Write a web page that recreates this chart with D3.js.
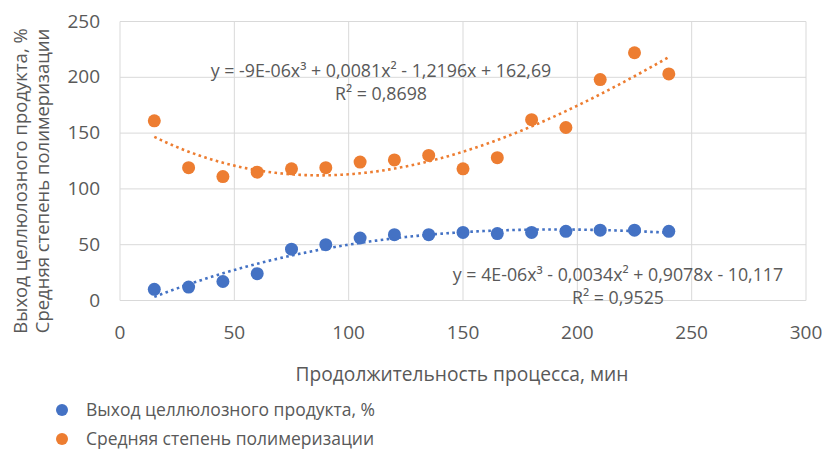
<!DOCTYPE html>
<html>
<head>
<meta charset="utf-8">
<script src="https://cdn.jsdelivr.net/npm/d3@7"></script>
<style>
  html, body { margin: 0; padding: 0; background: #fff; }
  text { font-family: "Open Sans", "DejaVu Sans", sans-serif; fill: #595959; }
</style>
</head>
<body>
<div id="chart"></div>
<script>
// данные
const minutes = [15, 30, 45, 60, 75, 90, 105, 120, 135, 150, 165, 180, 195, 210, 225, 240];
const yieldValues = [10, 12, 17, 24, 46, 50, 56, 59, 59, 61, 60, 61, 62, 63, 63, 62];
const dpValues = [161, 119, 111, 115, 118, 119, 124, 126, 130, 118, 128, 162, 155, 198, 222, 203];
const xTicks = [0, 50, 100, 150, 200, 250, 300];
const yTicks = [0, 50, 100, 150, 200, 250];
const seriesNames = ['Выход целлюлозного продукта, %', 'Средняя степень полимеризации'];
const yieldEquation = ['y = 4E-06x³ - 0,0034x² + 0,9078x - 10,117', 'R² = 0,9525'];
const dpEquation = ['y = -9E-06x³ + 0,0081x² - 1,2196x + 162,69', 'R² = 0,8698'];

const width = 822, height = 450;
const margin = { left: 120, right: 16, top: 21.5, bottom: 149.5 };
const blue = '#4472C4', orange = '#ED7D31';

const svg = d3.select('#chart').append('svg')
  .attr('width', width)
  .attr('height', height);

const x = d3.scaleLinear().domain([0, 300]).range([margin.left, width - margin.right]);
const y = d3.scaleLinear().domain([0, 250]).range([height - margin.bottom, margin.top]);

// кубическая аппроксимация методом наименьших квадратов (как линия тренда в Excel)
function cubicFit(xs, ys) {
  const n = 4;
  const A = Array.from({ length: n }, () => new Array(n + 1).fill(0));
  xs.forEach((xv, k) => {
    for (let i = 0; i < n; i++) {
      for (let j = 0; j < n; j++) A[i][j] += Math.pow(xv, i + j);
      A[i][n] += ys[k] * Math.pow(xv, i);
    }
  });
  for (let c = 0; c < n; c++) {
    let p = c;
    for (let r = c + 1; r < n; r++) if (Math.abs(A[r][c]) > Math.abs(A[p][c])) p = r;
    [A[c], A[p]] = [A[p], A[c]];
    for (let r = 0; r < n; r++) {
      if (r === c) continue;
      const f = A[r][c] / A[c][c];
      for (let k = c; k <= n; k++) A[r][k] -= f * A[c][k];
    }
  }
  const coef = A.map((row, i) => row[n] / row[i]);
  return xv => coef[0] + coef[1] * xv + coef[2] * xv * xv + coef[3] * xv * xv * xv;
}

// сетка
const grid = svg.append('g').attr('stroke', '#d9d9d9').attr('stroke-width', 1);
grid.selectAll('line.h').data(yTicks).enter().append('line')
  .attr('x1', x(0)).attr('x2', x(300))
  .attr('y1', d => y(d)).attr('y2', d => y(d));
grid.selectAll('line.v').data(xTicks).enter().append('line')
  .attr('y1', y(0)).attr('y2', y(250))
  .attr('x1', d => x(d)).attr('x2', d => x(d));

// подписи осей
svg.append('g').selectAll('text').data(yTicks).enter().append('text')
  .attr('x', 100).attr('y', d => y(d) + 6)
  .attr('text-anchor', 'end')
  .style('font-size', '19px')
  .text(d => d);
svg.append('g').selectAll('text').data(xTicks).enter().append('text')
  .attr('x', d => x(d)).attr('y', 339)
  .attr('text-anchor', 'middle')
  .style('font-size', '19px')
  .text(d => d);

// точки
function drawPoints(values, color) {
  svg.append('g').selectAll('circle').data(minutes).enter().append('circle')
    .attr('cx', d => x(d))
    .attr('cy', (d, i) => y(values[i]))
    .attr('r', 6.5)
    .attr('fill', color);
}
drawPoints(yieldValues, blue);
drawPoints(dpValues, orange);

// линии тренда
function drawTrend(values, color) {
  const f = cubicFit(minutes, values);
  const xs = d3.range(minutes[0], minutes[minutes.length - 1] + 0.01, 1);
  svg.append('path')
    .datum(xs)
    .attr('d', d3.line().x(d => x(d)).y(d => y(f(d))))
    .attr('fill', 'none')
    .attr('stroke', color)
    .attr('stroke-width', 2.6)
    .attr('stroke-dasharray', '2.6 3.4');
}
drawTrend(yieldValues, blue);
drawTrend(dpValues, orange);

// уравнения трендов
function drawEquation(lines, cx, y0) {
  svg.append('g').selectAll('text').data(lines).enter().append('text')
    .attr('x', cx)
    .attr('y', (d, i) => y0 + i * 23)
    .attr('text-anchor', 'middle')
    .style('font-size', '17.8px')
    .text(d => d);
}
drawEquation(dpEquation, 381, 77);
drawEquation(yieldEquation, 618, 281);

// заголовок оси X
svg.append('text')
  .attr('x', 462).attr('y', 381)
  .attr('text-anchor', 'middle')
  .style('font-size', '19.2px')
  .text('Продолжительность процесса, мин');

// заголовок оси Y (две строки)
svg.append('g').selectAll('text').data(seriesNames).enter().append('text')
  .attr('transform', (d, i) => `translate(${27 + i * 22},${181}) rotate(-90)`)
  .attr('text-anchor', 'middle')
  .style('font-size', '18.5px')
  .text(d => d);

// легенда
const legend = svg.append('g');
[blue, orange].forEach((c, i) => {
  legend.append('circle').attr('cx', 62).attr('cy', 410 + i * 29).attr('r', 6).attr('fill', c);
  legend.append('text').attr('x', 86).attr('y', 416 + i * 29)
    .style('font-size', '17.5px')
    .text(seriesNames[i]);
});
</script>
</body>
</html>
